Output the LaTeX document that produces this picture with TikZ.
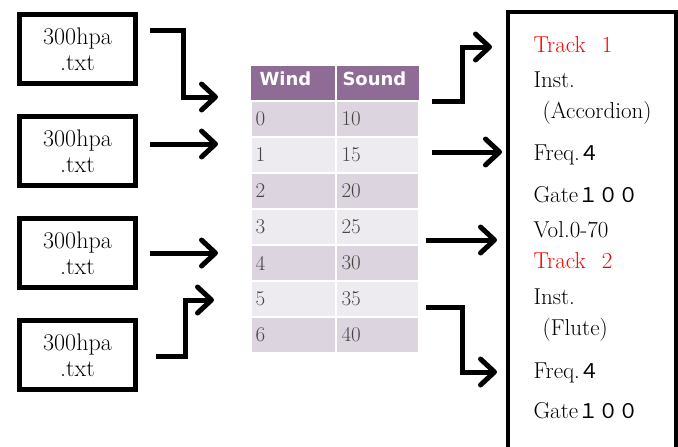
\documentclass[tikz,border=0pt]{standalone}
\usepackage{fontspec}
\usetikzlibrary{arrows.meta}
\newfontfamily\cjk[Scale=0.88]{Noto Sans CJK JP}
\newfontfamily\hdrfont{DejaVu Sans}
\definecolor{hdrpurple}{RGB}{143,108,150}
\definecolor{rowdark}{RGB}{220,213,223}
\definecolor{rowlight}{RGB}{238,235,240}
\definecolor{cellgray}{RGB}{70,70,70}
\definecolor{trackred}{RGB}{255,0,0}
\begin{document}
\begin{tikzpicture}[x=1pt,y=-1pt,
    filebox/.style={draw, line width=5pt, minimum width=116pt, minimum height=69pt,
      align=center, font=\fontsize{24}{26}\selectfont},
    conn/.style={line width=5pt, line join=miter,
      -{Straight Barb[length=14pt,width=26pt,line cap=round,line join=round]}},
    cell/.style={draw=white, line width=1.5pt},
    celltext/.style={anchor=west, text=cellgray, font=\fontsize{21}{23}\selectfont},
    hdrtext/.style={anchor=west, text=white, font=\hdrfont\bfseries\fontsize{18}{20}\selectfont},
    info/.style={anchor=base west, font=\fontsize{23}{25}\selectfont}]
    \useasboundingbox (0,0) rectangle (678,447);

    \node[filebox] (src1) at (77.5,49) {300hpa\\.txt};
    \node[filebox] (src2) at (77.5,151) {300hpa\\.txt};
    \node[filebox] (src3) at (77.5,253) {300hpa\\.txt};
    \node[filebox] (src4) at (77.5,355) {300hpa\\.txt};

    \coordinate (in1s) at (150,30);
    \coordinate (in1e) at (218,97);
    \coordinate (in2s) at (150,144);
    \coordinate (in2e) at (218,144);
    \coordinate (in3s) at (150,253);
    \coordinate (in3e) at (218,253);
    \coordinate (in4s) at (156,356);
    \coordinate (in4e) at (214,300);

    \draw[conn] (in1s) -- (183,30) |- (in1e);
    \draw[conn] (in2s) -- (in2e);
    \draw[conn] (in3s) -- (in3e);
    \draw[conn] (in4s) -- (185,356) |- (in4e);

    \fill[hdrpurple] (251,66) rectangle (419,101);
    \draw[cell] (336,66) -- (336,101);
    \node[hdrtext] (hwind) at (256,79) {Wind};
    \node[hdrtext] (hsound) at (339,79) {Sound};
    \foreach \w/\s [count=\i from 0] in {0/10,1/15,2/20,3/25,4/30,5/35,6/40}{
      \pgfmathsetmacro{\top}{101+36*\i}
      \ifodd\i \def\rowcol{rowlight}\else \def\rowcol{rowdark}\fi
      \draw[cell, fill=\rowcol] (251,\top) rectangle (336,\top+36);
      \draw[cell, fill=\rowcol] (336,\top) rectangle (419,\top+36);
      \node[celltext] (w\i) at (252,\top+18) {\w};
      \node[celltext] (s\i) at (338,\top+18) {\s};
    }
    \draw[cell] (251,101) -- (419,101);

    \draw[line width=4.5pt] (508,450) -- (508,12) -- (676,12) -- (676,450);

    \node[info, text=trackred] (trk1) at (530,52) {Track\hspace{0.7em}1};
    \node[info] (ins1) at (530,87) {Inst.};
    \node[info] (acc) at (530,118) {\hspace{0.4em}(Accordion)};
    \node[info] (frq1) at (530,160) {Freq.{\cjk ４}};
    \node[info] (gat1) at (530,202) {Gate{\cjk １００}};
    \node[info] (vol) at (530,237) {Vol.0-70};
    \node[info, text=trackred] (trk2) at (530,268) {Track\hspace{0.7em}2};
    \node[info] (ins2) at (530,304) {Inst.};
    \node[info] (flu) at (530,335) {\hspace{0.4em}(Flute)};
    \node[info] (frq2) at (530,378) {Freq.{\cjk ４}};
    \node[info] (gat2) at (530,418) {Gate{\cjk １００}};

    \coordinate (outAs) at (432,101);
    \coordinate (outAe) at (492,47);
    \coordinate (outBs) at (432,152);
    \coordinate (outBe) at (502,152);
    \coordinate (outCs) at (426,240);
    \coordinate (outCe) at (497,240);
    \coordinate (outDs) at (426,307);
    \coordinate (outDe) at (497,372);

    \draw[conn] (outAs) -- (462,101) |- (outAe);
    \draw[conn] (outBs) -- (outBe);
    \draw[conn] (outCs) -- (outCe);
    \draw[conn] (outDs) -- (462,307) |- (outDe);
  \end{tikzpicture}
\end{document}
